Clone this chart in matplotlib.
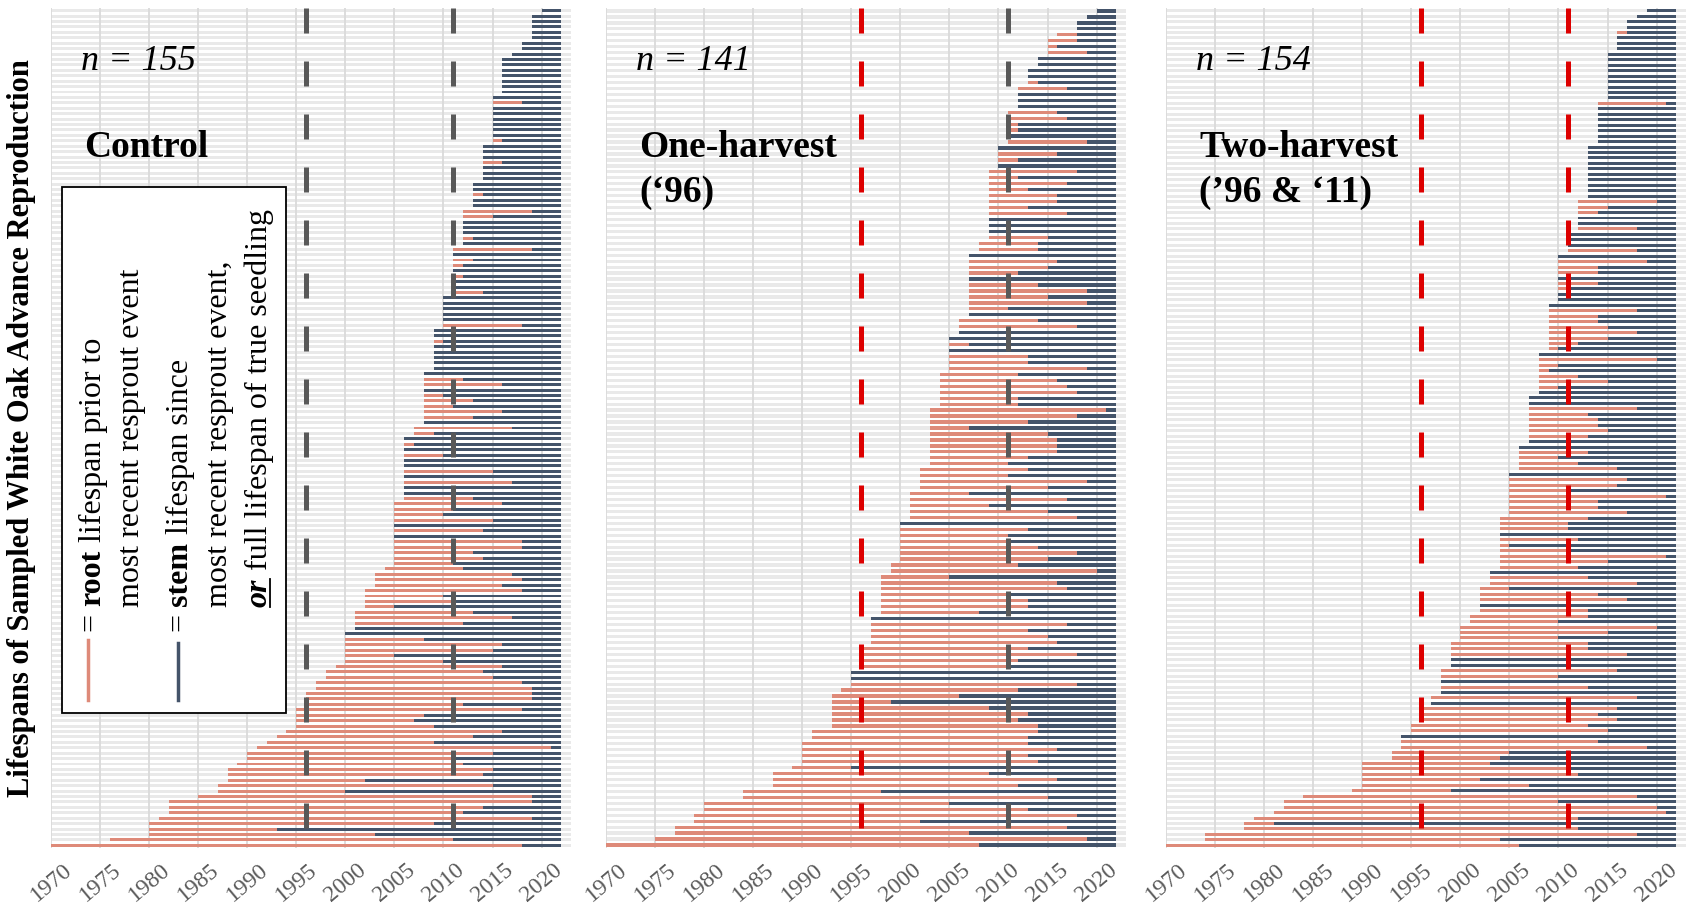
import matplotlib.pyplot as plt
from matplotlib.patches import Rectangle
from matplotlib.lines import Line2D

plt.rcParams['font.family'] = ['Liberation Serif', 'DejaVu Serif']

W, H = 1695, 909

# year each bar ends (sampling) and x range
end_year = 2022
x_min, x_max = 1970, 2023
tick_years = list(range(1970, 2021, 5))
harvest_lines = [1996, 2011]

# ---- Control (n = 155): first year of root, year of last resprout ----
ctrl_start = ([2020] + [2019]*5 + [2018]*2 + [2017] + [2016]*7 + [2015]*9
              + [2014]*7 + [2013]*5 + [2012]*7 + [2011]*9 + [2010]*6
              + [2009]*8 + [2008]*10 + [2007]*2 + [2006]*2
              + [2006]*10 + [2005]*12 + [2004] + [2003]*3 + [2002]*4 + [2001]*4
              + [2000]*6 + [1999] + [1998]*2 + [1997]*2 + [1996]*3 + [1995]*4
              + [1994, 1993, 1992, 1991] + [1990]*2 + [1989] + [1988]*3
              + [1987]*2 + [1985] + [1982]*3 + [1981] + [1980]*3 + [1976, 1970])
ctrl_sprout = [
    2020,
    2019, 2019, 2019, 2019, 2019,
    2018, 2018,
    2017,
    2016, 2016, 2016, 2016, 2016, 2016, 2016,
    2015, 2018, 2015, 2015, 2015, 2015, 2015, 2015, 2016,
    2014, 2014, 2014, 2016, 2014, 2014, 2014,
    2013, 2013, 2014, 2013, 2013,
    2019, 2015, 2012, 2012, 2012, 2013, 2012,
    2019, 2011, 2013, 2012, 2011, 2012, 2011, 2011, 2014,
    2010, 2010, 2010, 2010, 2010, 2018,
    2009, 2009, 2010, 2009, 2009, 2009, 2009, 2009,
    2008, 2012, 2016, 2008, 2010, 2013, 2011, 2016, 2013, 2008,
    2017, 2009,
    2006, 2007,
    2006, 2010, 2006, 2006, 2015, 2006, 2017, 2006, 2006, 2013,
    2016, 2011, 2010, 2015, 2005, 2014, 2005, 2018, 2018, 2013, 2014, 2011,
    2012,
    2017, 2018, 2016,
    2018, 2010, 2011, 2005,
    2013, 2017, 2012, 2001,
    2000, 2008, 2016, 2015, 2005, 2010,
    2016,
    2014, 2015,
    2018, 2019,
    2019, 2019, 2012,
    2018, 2008, 2007, 2009,
    2016, 2013, 2009, 2021,
    2015, 2011,
    2012,
    2015, 2014, 2002,
    2015, 2000,
    2019,
    2019, 2014, 2012,
    2019,
    2009, 1993, 2003,
    2011, 2018]

# ---- One-harvest (n = 141) ----
one_start = ([2020, 2019, 2018, 2018, 2016, 2015, 2015, 2015, 2014, 2014]
             + [2013]*3 + [2012]*4 + [2011]*6 + [2010]*4 + [2009]*12
             + [2008]*2 + [2007]*11 + [2006]*3 + [2005]*6 + [2004]*6
             + [2003]*7 + [2003]*3 + [2002]*4 + [2001]*5 + [2000]*7
             + [1999]*2 + [1998]*7 + [1997]*5 + [1996]*4 + [1995]*3 + [1994]
             + [1993]*6 + [1991]*2 + [1990]*4 + [1989] + [1987]*3 + [1984]*2
             + [1980]*2 + [1979]*2 + [1977]*2 + [1975, 1970])
one_sprout = [
    2020, 2019, 2018, 2018, 2018, 2018, 2016, 2019,
    2014, 2014,
    2013, 2013, 2014,
    2017, 2012, 2012, 2012,
    2016, 2017, 2012, 2012, 2011, 2019,
    2010, 2016, 2012, 2010,
    2018, 2012, 2017, 2013, 2016, 2016, 2013, 2017, 2009, 2009, 2009, 2015,
    2014, 2014,
    2007, 2016, 2015, 2012, 2007, 2014, 2019, 2015, 2019, 2011, 2007,
    2014, 2018, 2006,
    2005, 2007, 2005, 2013, 2013, 2019,
    2012, 2016, 2017, 2018, 2012, 2012,
    2021, 2018, 2013, 2007, 2015, 2016, 2016,
    2016, 2013, 2011,
    2013, 2011, 2019, 2015,
    2007, 2017, 2009, 2015, 2018,
    2000, 2013, 2011, 2011, 2014, 2018, 2015,
    2012, 2020,
    2005, 2016, 2017, 2011, 2013, 2013, 2008,
    1997, 2017, 2013, 2015, 2016,
    2013, 2018, 2012, 2011,
    1995, 1995, 2018,
    2012,
    2006, 1999, 2009, 2013, 2012, 2014,
    2014, 2013,
    2013, 2016, 2013, 2014,
    1995,
    2009, 2016, 2012,
    1998, 2015,
    2005, 2013,
    2018, 2002,
    2017, 2007,
    2019,
    2008]

# ---- Two-harvest (n = 154) ----
two_start = ([2019, 2018, 2017, 2017] + [2016]*4 + [2015]*9 + [2014]*8
             + [2013]*10 + [2012]*6 + [2011]*4 + [2010]*9 + [2009]*9
             + [2008]*8 + [2007]*9 + [2006] + [2006]*4 + [2005]*8 + [2004]*10
             + [2003]*3 + [2002]*5 + [2001]*2 + [2000]*3 + [1999]*5
             + [1998]*5 + [1997]*2 + [1996]*3 + [1995]*2 + [1994]*3
             + [1993]*2 + [1990]*5 + [1989, 1984, 1982, 1982, 1981, 1979]
             + [1978]*2 + [1974]*2 + [1970])
two_sprout = [
    2019, 2018, 2017, 2017,
    2017, 2016, 2016, 2016,
    2015, 2015, 2015, 2015, 2015, 2015, 2015, 2015, 2015,
    2021, 2014, 2014, 2014, 2014, 2014, 2014, 2014,
    2013, 2013, 2013, 2013, 2013, 2013, 2013, 2013, 2013, 2013,
    2020, 2015, 2014, 2012, 2012, 2018,
    2011, 2011, 2011, 2018,
    2010, 2019, 2014, 2014, 2010, 2014, 2011, 2010, 2010,
    2009, 2018, 2014, 2014, 2015, 2018, 2015, 2012, 2010,
    2008, 2020, 2010, 2009, 2012, 2015, 2010, 2008,
    2007, 2007, 2018, 2013, 2014, 2014, 2015, 2013, 2007,
    2006,
    2013, 2010, 2012, 2016,
    2005, 2017, 2016, 2011, 2021, 2014, 2014, 2017,
    2013, 2011, 2011, 2004, 2012, 2005, 2011, 2021, 2015, 2012,
    2003, 2013, 2018,
    2005, 2014, 2017, 2002, 2013,
    2013, 2010,
    2020, 2015, 2010,
    2013, 2013, 2017, 1999, 1999,
    2016, 2010, 1998, 2013, 1998,
    2018, 1997,
    2016, 2014, 2016,
    2013, 2015,
    1994, 2014, 2019,
    2005, 2004,
    2003, 2011, 2012, 2002, 2007,
    1999,
    2018,
    2010, 2020,
    2021,
    2012,
    1981, 2012,
    2018, 2004,
    2006]

root_color = '#DE8A79'
stem_color = '#44546A'
row_color = '#E9E9E9'
grid_color = '#DADADA'
grey_dash = '#595959'
red_dash = '#DD0000'

panels = [
    (51, ctrl_start, ctrl_sprout, 'n = 155', ['Control'], [grey_dash, grey_dash]),
    (606, one_start, one_sprout, 'n = 141', ['One-harvest', '(\u201896)'], [red_dash, grey_dash]),
    (1166, two_start, two_sprout, 'n = 154', ['Two-harvest', '(\u201996 & \u201811)'], [red_dash, red_dash]),
]

fig = plt.figure(figsize=(W / 100, H / 100), dpi=100)

top_px, bottom_px, width_px = 8, 848, 520
for left, start, sprout, n_label, name_lines, dash_colors in panels:
    ax = fig.add_axes([left / W, (H - bottom_px) / H, width_px / W, (bottom_px - top_px) / H])
    n = len(start)
    rows = list(range(n))
    ax.barh(rows, [x_max - x_min] * n, left=x_min, height=0.55, color=row_color, zorder=1)
    ax.barh(rows, [r - s for s, r in zip(start, sprout)], left=start,
            height=0.55, color=root_color, zorder=3)
    ax.barh(rows, [end_year - r for r in sprout], left=sprout,
            height=0.55, color=stem_color, zorder=3)
    for yr in tick_years:
        ax.axvline(yr, color=grid_color, lw=1.3, zorder=2)
    for yr, c in zip(harvest_lines, dash_colors):
        ax.plot([yr, yr], [-0.5, n - 0.5], color=c, lw=3.6,
                ls=(0, (5.0, 5.6)), solid_capstyle='butt', zorder=5)
    ax.set_xlim(x_min, x_max)
    ax.set_ylim(n - 0.5, -0.5)
    ax.set_yticks([])
    ax.set_xticks(tick_years)
    ax.set_xticklabels(tick_years, rotation=40, color='#5A5A5A', fontsize=17)
    ax.tick_params(axis='x', length=0, pad=8)
    for sp in ax.spines.values():
        sp.set_visible(False)
    fig.text((left + 30) / W, 1 - 70 / H, n_label, fontsize=26, fontstyle='italic',
             ha='left', va='baseline')
    for i, line in enumerate(name_lines):
        fig.text((left + 33) / W, 1 - (157 + 45 * i) / H, line, fontsize=27,
                 fontweight='bold', ha='left', va='baseline')

fig.text(22 / W, 1 - 428 / H, 'Lifespans of Sampled White Oak Advance Reproduction',
         rotation=90, ha='center', va='center', fontsize=22, fontweight='bold')

# legend box
fig.add_artist(Rectangle((62 / W, (H - 713) / H), 224 / W, 526 / H, transform=fig.transFigure,
                         facecolor='white', edgecolor='black', lw=1.3, zorder=10))
fig.add_artist(Line2D([88 / W, 88 / W], [1 - 640 / H, 1 - 700 / H], transform=fig.transFigure,
                      color=root_color, lw=2.5, zorder=11))
fig.add_artist(Line2D([178 / W, 178 / W], [1 - 643 / H, 1 - 700 / H], transform=fig.transFigure,
                      color=stem_color, lw=2.5, zorder=11))

renderer = fig.canvas.get_renderer()


def vertical_run(x, y, pieces, size=23):
    # writes pieces bottom-to-top, rotated 90 degrees; x, y in pixels from top-left
    y_disp = H - y
    out = []
    for txt, weight, style in pieces:
        t = fig.text(x / W, y_disp / H, txt, rotation=90, ha='center', va='bottom',
                     fontsize=size, fontweight=weight, fontstyle=style, zorder=12)
        bb = t.get_window_extent(renderer)
        out.append(bb)
        y_disp += bb.height
    return out


vertical_run(93, 632, [('= ', 'normal', 'normal'), ('root', 'bold', 'normal'),
                       (' lifespan prior to', 'normal', 'normal')])
vertical_run(131, 607, [('most recent resprout event', 'normal', 'normal')])
vertical_run(180, 632, [('= ', 'normal', 'normal'), ('stem', 'bold', 'normal'),
                        (' lifespan since', 'normal', 'normal')])
vertical_run(220, 607, [('most recent resprout event,', 'normal', 'normal')])
boxes = vertical_run(259, 607, [('or', 'bold', 'italic'),
                                (' full lifespan of true seedling', 'normal', 'normal')])
ob = boxes[0]
ux = ob.x1 - 4
fig.add_artist(Line2D([ux / W, ux / W], [ob.y0 / H, ob.y1 / H], transform=fig.transFigure,
                      color='black', lw=1.3, zorder=12))

fig.savefig('out.png', dpi=100)
